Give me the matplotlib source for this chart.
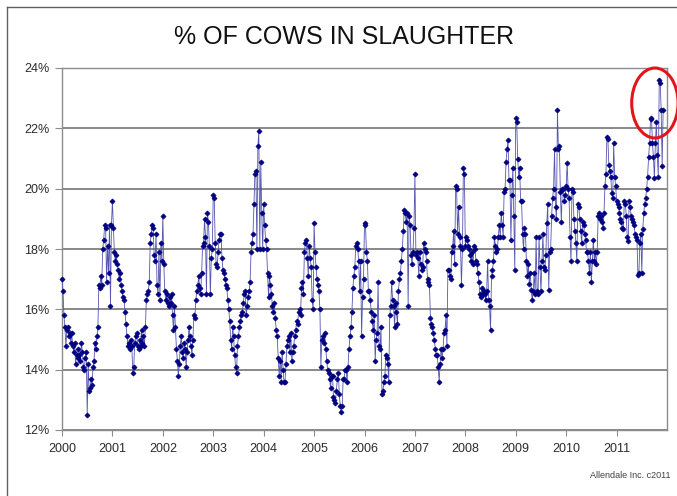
import numpy as np
import matplotlib
matplotlib.use('Agg')
import matplotlib.pyplot as plt
from matplotlib.patches import Ellipse
from matplotlib.lines import Line2D

plt.rcParams['font.family'] = ['Liberation Sans', 'DejaVu Sans']

# weekly share of cows in total cattle slaughter (%)
y2000 = [17.0, 16.6, 15.8, 15.4, 14.8, 15.3, 15.4, 15.1, 15.2, 14.9,
         15.2, 14.8, 14.6, 14.9, 14.2, 14.5, 14.4, 14.7, 14.5, 14.3,
         14.9, 14.6, 14.1, 14.0, 14.4, 14.6, 12.5, 14.2, 13.3, 13.4,
         13.7, 13.5, 14.1, 14.3, 14.9, 14.7, 15.1, 15.4, 16.8, 16.7,
         17.1, 16.8, 18.0, 18.3, 18.8, 18.7, 16.9, 18.1, 17.2, 18.8,
         16.1, 18.8]
y2001 = [19.6, 18.7, 17.9, 17.6, 17.8, 17.5, 17.3, 17.0, 17.2, 16.8,
         16.6, 16.4, 16.3, 15.9, 15.5, 15.1, 14.8, 14.9, 14.7, 15.0,
         14.8, 13.9, 14.1, 14.9, 15.1, 15.2, 14.8, 14.7, 15.0, 14.8,
         15.3, 14.9, 15.1, 14.8, 15.4, 16.3, 16.5, 16.6, 16.9, 18.2,
         18.5, 18.8, 18.7, 17.8, 17.6, 18.5, 16.8, 16.5, 17.9, 16.3,
         18.2, 17.6]
y2002 = [19.1, 17.5, 16.6, 16.3, 16.5, 16.2, 16.1, 16.4, 16.2, 16.5,
         15.8, 15.3, 16.1, 15.4, 14.7, 14.3, 13.8, 14.2, 14.8, 15.1,
         14.6, 14.4, 14.9, 14.7, 14.1, 14.6, 15.0, 15.4, 15.1, 14.8,
         14.5, 15.0, 15.8, 15.7, 16.3, 16.6, 16.8, 17.1, 16.7, 16.5,
         17.2, 18.1, 18.2, 19.0, 18.4, 16.5, 19.2, 18.9, 18.1, 16.5,
         17.7, 18.0]
y2003 = [19.8, 19.7, 18.2, 17.5, 17.4, 17.9, 18.3, 18.5, 18.5, 17.7,
         17.3, 17.2, 17.0, 16.8, 16.7, 16.3, 16.0, 15.6, 15.0, 14.7,
         15.4, 15.1, 14.5, 14.1, 13.9, 14.8, 15.1, 15.4, 15.6, 15.8,
         15.9, 16.2, 16.5, 16.6, 15.8, 16.1, 16.4, 16.6, 16.9, 17.9,
         18.2, 18.5, 19.5, 20.5, 20.6, 18.0, 21.4, 21.9, 18.0, 20.9,
         19.2, 18.0]
y2004 = [19.5, 18.8, 18.3, 18.0, 17.2, 16.4, 17.1, 16.8, 16.5, 16.1,
         15.9, 16.2, 15.7, 15.3, 15.1, 14.4, 13.8, 14.3, 13.6, 14.6,
         14.0, 13.6, 13.6, 14.2, 14.8, 15.0, 15.1, 14.6, 15.2, 14.3,
         14.6, 14.8, 15.1, 15.3, 15.6, 15.5, 15.9, 16.0, 15.8, 16.7,
         16.9, 16.5, 17.9, 18.2, 18.3, 17.7, 17.1, 18.1, 17.7, 17.4,
         16.3, 16.0]
y2005 = [18.85, 17.9, 17.4, 17.0, 16.8, 16.6, 16.0, 14.1, 15.0, 15.1,
         14.9, 15.2, 14.7, 14.3, 14.0, 13.9, 13.7, 13.4, 13.8, 13.8,
         13.1, 13.0, 12.9, 13.3, 13.7, 13.9, 13.2, 12.8, 12.6, 12.8,
         13.7, 13.7, 14.0, 14.0, 13.6, 14.1, 14.7, 15.1, 15.4, 15.9,
         16.7, 17.1, 17.4, 18.1, 18.2, 18.0, 17.6, 16.6, 17.6, 15.1,
         16.4, 17.0]
y2006 = [18.85, 18.8, 17.9, 17.6, 16.6, 16.6, 16.3, 15.9, 15.6, 15.3,
         15.8, 14.3, 15.0, 15.2, 16.9, 14.8, 14.7, 15.4, 13.2, 13.3,
         13.6, 13.8, 14.5, 14.4, 14.2, 13.6, 15.8, 16.1, 16.9, 16.3,
         16.1, 15.4, 16.2, 15.9, 15.5, 16.6, 17.0, 17.2, 17.6, 18.0,
         18.6, 19.3, 19.2, 18.9, 19.2, 16.1, 19.1, 18.8, 17.8, 17.5,
         17.9, 18.7]
y2007 = [20.5, 17.8, 17.9, 17.7, 17.1, 17.9, 17.5, 17.3, 17.4, 18.2,
         18.0, 17.9, 17.6, 17.0, 16.9, 16.8, 15.7, 15.5, 15.4, 15.2,
         15.0, 14.7, 14.5, 14.5, 14.1, 13.6, 14.2, 14.7, 14.4, 14.7,
         15.2, 15.3, 15.8, 14.8, 17.3, 17.3, 17.1, 17.0, 17.9, 18.1,
         18.6, 17.5, 20.1, 20.0, 18.5, 19.4, 18.4, 18.1, 16.8, 18.0,
         20.7, 20.5]
y2008 = [18.1, 18.4, 18.3, 18.1, 18.0, 17.8, 17.6, 17.9, 17.5, 18.1,
         18.0, 17.6, 17.5, 17.2, 16.9, 16.5, 16.4, 16.7, 16.5, 16.6,
         16.5, 16.3, 16.6, 17.6, 16.3, 16.1, 15.3, 17.1, 17.3, 17.6,
         18.4, 18.1, 17.9, 18.0, 18.4, 18.8, 18.4, 19.2, 18.8, 18.4,
         19.9, 20.0, 20.9, 21.3, 21.6, 20.3, 20.3, 18.3, 19.8, 20.7,
         19.1, 17.3]
y2009 = [22.35, 22.2, 21.0, 20.4, 20.7, 19.6, 19.6, 18.5, 18.0, 18.7,
         18.5, 17.6, 17.1, 17.5, 16.85, 17.2, 16.65, 16.3, 16.6, 17.2,
         16.5, 18.4, 16.6, 16.5, 18.4, 17.4, 16.6, 17.6, 18.5, 17.4,
         17.3, 17.8, 18.85, 19.5, 16.65, 17.9, 18.0, 19.1, 19.7, 20.0,
         21.3, 19.4, 19.0, 22.6, 21.3, 21.4, 19.9, 18.9, 20.0, 20.0,
         19.6, 19.8]
y2010 = [20.1, 20.85, 20.0, 19.7, 18.4, 17.6, 20.0, 19.9, 19.0, 18.6,
         18.2, 17.6, 19.5, 19.4, 19.0, 18.6, 18.2, 18.9, 18.8, 18.5,
         18.3, 17.9, 17.9, 17.6, 17.2, 17.9, 16.9, 17.6, 18.3, 17.6,
         17.9, 17.5, 17.9, 19.1, 19.2, 19.0, 19.1, 18.9, 18.7, 19.2,
         20.1, 20.5, 21.7, 21.65, 20.8, 20.6, 20.4, 19.85, 19.7, 21.5,
         20.4, 20.1]
y2011 = [19.6, 19.5, 19.4, 19.2, 19.0, 18.9, 18.7, 18.65, 19.6, 19.5,
         19.1, 18.4, 18.25, 19.6, 19.4, 19.1, 19.0, 18.9, 18.8, 18.5,
         18.4, 18.3, 17.15, 17.2, 18.2, 18.5, 17.2, 18.65, 19.2, 19.5,
         19.7, 20.0, 20.4, 21.05, 21.5, 22.3, 22.35, 21.5, 21.05, 20.35,
         21.5, 22.2, 21.1, 20.4, 23.6, 23.5, 22.6, 20.75, 22.6]

years = list(range(2000, 2012))
series = [y2000, y2001, y2002, y2003, y2004, y2005,
          y2006, y2007, y2008, y2009, y2010, y2011]
y_ticks = [12, 14, 16, 18, 20, 22, 24]

# weekly points placed as fractional years
xs, ys = [], []
for yr, vals in zip(years, series):
    for i, v in enumerate(vals):
        xs.append(yr + i / 52.0)
        ys.append(v)

W, H = 677, 496
fig = plt.figure(figsize=(W / 100, H / 100), dpi=100)
ax = fig.add_axes([62 / W, 66 / H, 605 / W, 362 / H])

ax.plot(xs, ys, color='#5555b0', lw=0.6, marker='D', ms=2.6,
        mfc='#000080', mec='#000080', mew=0.5, clip_on=False, zorder=3)

ax.set_xlim(2000, 2012)
ax.set_ylim(12, 24)
ax.set_yticks(y_ticks)
ax.set_yticklabels(['{}%'.format(v) for v in y_ticks])
ax.set_xticks(years)
ax.set_xticklabels([str(v) for v in years])

ax.yaxis.grid(True, color='#7f7f7f', lw=1.3)
ax.set_axisbelow(True)
for s in ax.spines.values():
    s.set_color('#8c8c8c')
    s.set_linewidth(1.0)
ax.tick_params(axis='y', length=5, color='#8c8c8c', labelsize=9,
               labelcolor='#2a2a2a', pad=4)
ax.tick_params(axis='x', length=4, color='#8c8c8c', labelsize=9,
               labelcolor='#2a2a2a', pad=5)

# highlight of the latest peak
ax.add_patch(Ellipse((2011.76, 22.84), width=0.92, height=2.32, fill=False,
                     ec='#e5141b', lw=2.2, clip_on=False, zorder=4))

fig.text(344 / W, 1 - 37 / H, '% OF COWS IN SLAUGHTER', ha='center',
         va='center', fontsize=18, color='#111111')
fig.text(670 / W, 1 - 475 / H, 'Allendale Inc. c2011', ha='right',
         va='center', fontsize=6.5, color='#404040')

# outer chart frame (only left and top edges are visible)
fig.add_artist(Line2D([6.5 / W, 6.5 / W], [0, 1 - 6.5 / H],
                      transform=fig.transFigure, color='#606060', lw=1))
fig.add_artist(Line2D([6.5 / W, 1], [1 - 6.5 / H, 1 - 6.5 / H],
                      transform=fig.transFigure, color='#606060', lw=1))

fig.savefig('out.png', dpi=100)
